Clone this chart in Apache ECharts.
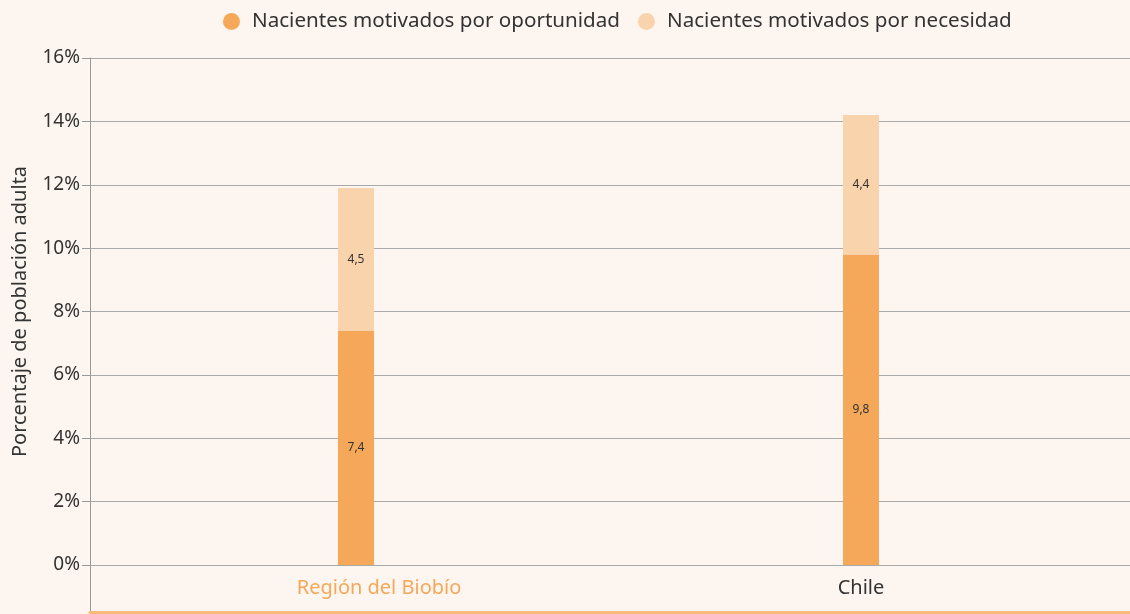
<!DOCTYPE html>
<html lang="es">
<head>
    <meta charset="utf-8">
    <title>Nacientes motivados</title>
    <script src="https://cdn.jsdelivr.net/npm/echarts@6/dist/echarts.min.js"></script>
    <style>
        html, body { margin: 0; padding: 0; background: #fdf5ef; }
        #main { width: 1130px; height: 614px; }
    </style>
</head>
<body>
    <div id="main"></div>
    <script type="text/javascript">

    // datos
    var categorias = ['Región del Biobío', 'Chile'];
    var oportunidad = [7.4, 9.8];
    var necesidad = [4.5, 4.4];

    var fuente = '"Noto Sans", sans-serif';
    var coma = function (v) { return String(v).replace('.', ','); };

    var myChart = echarts.init(document.getElementById('main'));

    var etiqueta = {
        show: true,
        position: 'inside',
        fontSize: 12,
        color: '#333',
        fontFamily: fuente,
        formatter: function (p) { return coma(p.value); }
    };

    myChart.setOption({
        backgroundColor: '#fdf5ef',
        textStyle: { fontFamily: fuente },
        legend: {
            left: 218,
            top: 6,
            icon: 'circle',
            itemWidth: 17,
            itemHeight: 17,
            itemGap: 18,
            textStyle: {
                fontSize: 20.6,
                color: '#333',
                fontFamily: fuente,
                padding: [0, 0, 0, 7]
            },
            data: ['Nacientes motivados por oportunidad', 'Nacientes motivados por necesidad']
        },
        grid: [
            // rejilla y eje y (ancho completo)
            { left: 90, right: 0, top: 58, bottom: 49 },
            // barras
            { left: 103.5, right: 16.5, top: 58, bottom: 49 },
            // marco: linea izquierda y linea naranja inferior
            { left: 90, right: 0, top: 58, bottom: 2 }
        ],
        xAxis: [{
            type: 'value',
            gridIndex: 0,
            min: 0, max: 1,
            show: false
        }, {
            type: 'category',
            gridIndex: 1,
            data: categorias,
            axisLine: { show: false },
            axisTick: { show: false },
            axisLabel: {
                margin: 13,
                fontSize: 20,
                fontFamily: fuente,
                formatter: function (v, i) { return i === 0 ? '{reg|' + v + '}' : v; },
                rich: {
                    reg: { fontSize: 20, color: '#f5a85a', padding: [0, 0, 0, 46], fontFamily: fuente }
                },
                color: '#333'
            }
        }, {
            type: 'value',
            gridIndex: 2,
            min: 0, max: 1,
            splitLine: { show: false },
            axisLine: { show: true, lineStyle: { color: '#f8b97a', width: 3 } },
            axisTick: { show: false },
            axisLabel: { show: false }
        }],
        yAxis: [{
            type: 'value',
            gridIndex: 0,
            min: 0,
            max: 16,
            interval: 2,
            name: 'Porcentaje de población adulta',
            nameLocation: 'middle',
            nameGap: 60,
            nameTextStyle: { fontSize: 20, color: '#333', fontFamily: fuente },
            axisLine: { show: false },
            axisTick: { show: true, length: 8, lineStyle: { color: '#999' } },
            axisLabel: {
                margin: 10,
                fontSize: 19,
                color: '#333',
                fontFamily: fuente,
                padding: [5, 0, 0, 0],
                formatter: '{value}%'
            },
            splitLine: { show: true, lineStyle: { color: '#aaa', width: 1 } }
        }, {
            type: 'value',
            gridIndex: 1,
            min: 0,
            max: 16,
            interval: 2,
            show: false,
            splitLine: { show: false }
        }, {
            type: 'value',
            gridIndex: 2,
            min: 0, max: 1,
            axisLine: { show: true, lineStyle: { color: '#999', width: 1 } },
            axisTick: { show: false },
            axisLabel: { show: false },
            splitLine: { show: false }
        }],
        series: [{
            name: 'Nacientes motivados por oportunidad',
            type: 'bar',
            stack: 'total',
            xAxisIndex: 1,
            yAxisIndex: 1,
            barWidth: 36,
            itemStyle: { color: '#f5a85a' },
            label: etiqueta,
            data: oportunidad
        }, {
            name: 'Nacientes motivados por necesidad',
            type: 'bar',
            stack: 'total',
            xAxisIndex: 1,
            yAxisIndex: 1,
            barWidth: 36,
            itemStyle: { color: '#f9d3ab' },
            label: etiqueta,
            data: necesidad
        }]
    });

    </script>
</body>
</html>
